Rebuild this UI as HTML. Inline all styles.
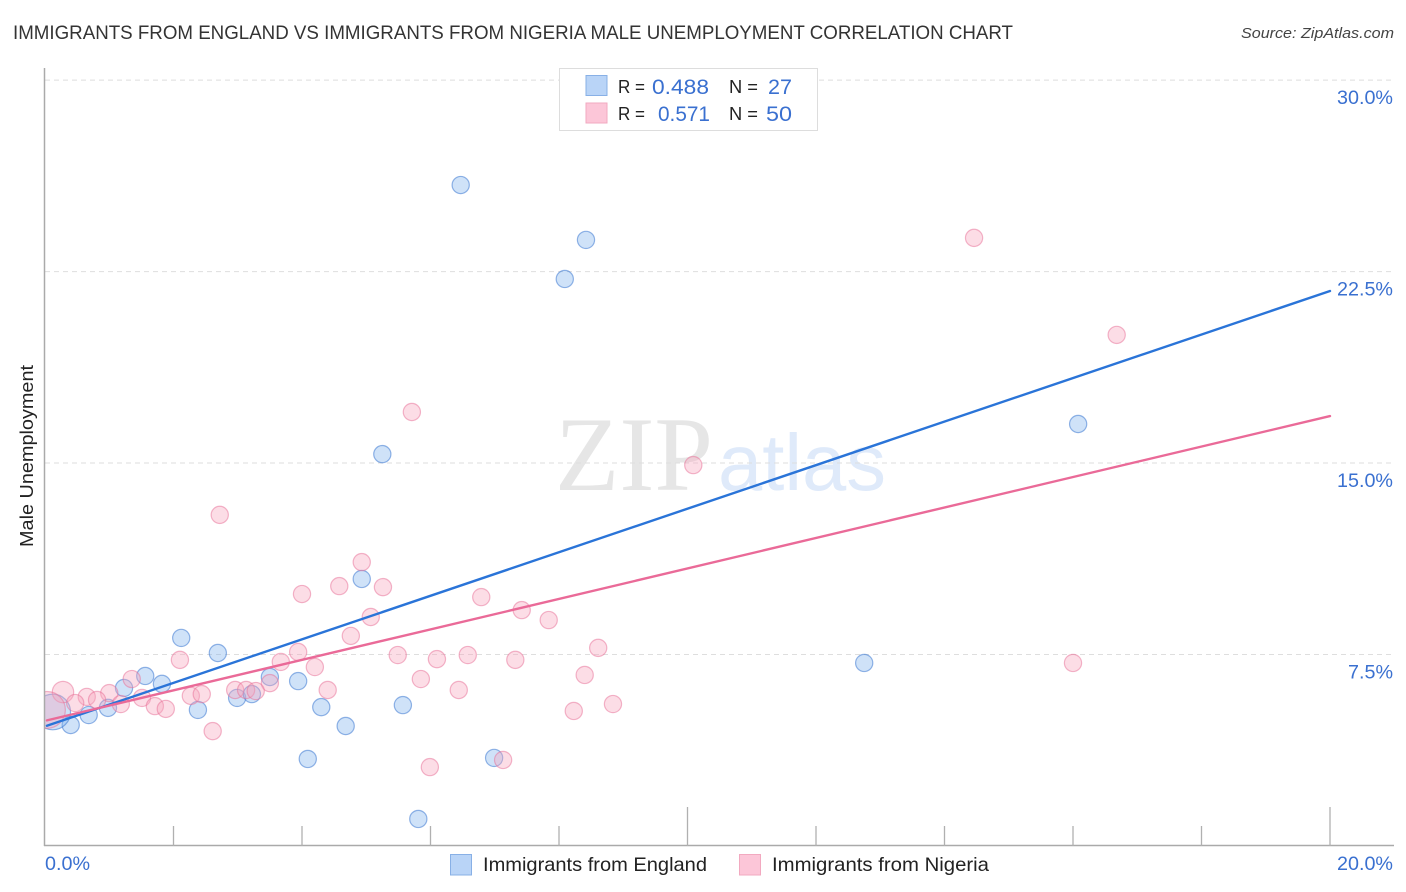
<!DOCTYPE html>
<html lang="en">
<head>
<meta charset="utf-8">
<title>Immigrants from England vs Immigrants from Nigeria Male Unemployment Correlation Chart</title>
<style>
html,body{margin:0;padding:0;background:#fff;}
body{width:1406px;height:892px;overflow:hidden;}
svg{display:block;font-family:"Liberation Sans",sans-serif;}
</style>
</head>
<body>
<svg id="chart" width="1406" height="892" viewBox="0 0 1406 892" xmlns="http://www.w3.org/2000/svg">
  <text x="13" y="39" font-size="19" fill="#333" textLength="1000" lengthAdjust="spacingAndGlyphs">IMMIGRANTS FROM ENGLAND VS IMMIGRANTS FROM NIGERIA MALE UNEMPLOYMENT CORRELATION CHART</text>
  <text x="1241" y="38" font-size="15" font-style="italic" fill="#444" textLength="153" lengthAdjust="spacingAndGlyphs">Source: ZipAtlas.com</text>
  <g id="watermark">
    <text x="555" y="490" font-family="'Liberation Serif',serif" font-size="106" fill="#e6e6e6" textLength="158" lengthAdjust="spacingAndGlyphs">ZIP</text>
    <text x="718" y="490" font-size="80" fill="#dfeafa" textLength="168" lengthAdjust="spacingAndGlyphs">atlas</text>
  </g>
  <g id="grid"></g>
  <g id="points"></g>
  <rect x="20" y="670" width="24.5" height="80" fill="#fff"/>
  <g id="axes"></g>
  <g id="trends"></g>
  <g id="ylabels"></g>
  <g id="xlabels"></g>
  <text transform="translate(33,456) rotate(-90)" text-anchor="middle" font-size="18" fill="#222" textLength="182" lengthAdjust="spacingAndGlyphs">Male Unemployment</text>

  <g>
    <rect x="559.5" y="68.5" width="258" height="62" fill="#fff" stroke="#ddd" stroke-width="1"/>
    <rect x="586" y="75.5" width="21" height="20" fill="#b9d4f7" stroke="#88b0e6" stroke-width="1"/>
    <rect x="586" y="103" width="21" height="20" fill="#fcc6d8" stroke="#f2a9c0" stroke-width="1"/>
    <text x="618" y="93" font-size="18" fill="#222" textLength="27" lengthAdjust="spacingAndGlyphs">R =</text>
    <text x="652" y="94" font-size="21" fill="#3a70d0" textLength="57" lengthAdjust="spacingAndGlyphs">0.488</text>
    <text x="729" y="93" font-size="18" fill="#222" textLength="29" lengthAdjust="spacingAndGlyphs">N =</text>
    <text x="768" y="94" font-size="21" fill="#3a70d0" textLength="24" lengthAdjust="spacingAndGlyphs">27</text>
    <text x="618" y="120" font-size="18" fill="#222" textLength="27" lengthAdjust="spacingAndGlyphs">R =</text>
    <text x="658" y="121" font-size="21" fill="#3a70d0" textLength="52" lengthAdjust="spacingAndGlyphs">0.571</text>
    <text x="729" y="120" font-size="18" fill="#222" textLength="29" lengthAdjust="spacingAndGlyphs">N =</text>
    <text x="766" y="121" font-size="21" fill="#3a70d0" textLength="26" lengthAdjust="spacingAndGlyphs">50</text>
  </g>

  <g>
    <rect x="450.5" y="854.5" width="21" height="20.5" fill="#b9d4f7" stroke="#88b0e6" stroke-width="1"/>
    <text x="483" y="871" font-size="19.5" fill="#222" textLength="224" lengthAdjust="spacingAndGlyphs">Immigrants from England</text>
    <rect x="739.5" y="854.5" width="21" height="20.5" fill="#fcc6d8" stroke="#f2a9c0" stroke-width="1"/>
    <text x="772" y="871" font-size="19.5" fill="#222" textLength="217" lengthAdjust="spacingAndGlyphs">Immigrants from Nigeria</text>
  </g>
</svg>
<script>
var englandX = [6.47,8.42,8.09,16.08,5.25,4.93,2.12,2.69,12.75,1.56,1.82,1.23,3.50,3.94,2.99,3.22,2.38,0.98,0.68,0.40,4.30,5.57,4.68,4.09,6.99,5.81,0.12];
var englandY = [25.89,23.74,22.21,16.53,15.35,10.46,8.15,7.56,7.17,6.66,6.35,6.19,6.62,6.46,5.80,5.95,5.33,5.41,5.13,4.74,5.44,5.52,4.70,3.41,3.45,1.06,5.25];
var englandWeight = [1,1,1,1,1,1,1,1,1,1,1,1,1,1,1,1,1,1,1,1,1,1,1,1,1,1,4.3];
var nigeriaX = [14.46,16.68,5.71,10.09,2.72,4.93,4.58,5.26,4.00,6.79,7.42,5.07,7.84,4.76,8.61,3.94,5.49,6.58,6.10,7.32,16.00,2.10,3.67,4.20,8.40,5.85,1.35,3.50,4.40,6.44,2.96,3.13,3.28,0.28,1.00,0.65,0.81,1.51,2.27,2.44,1.18,0.47,1.71,1.88,8.84,8.23,2.61,7.13,5.99,0.03];
var nigeriaY = [23.82,20.02,17.00,14.92,12.97,11.12,10.18,10.14,9.87,9.75,9.24,8.97,8.85,8.23,7.76,7.60,7.48,7.48,7.32,7.29,7.17,7.29,7.21,7.01,6.70,6.54,6.54,6.38,6.11,6.11,6.11,6.11,6.07,6.03,5.99,5.84,5.72,5.80,5.88,5.95,5.56,5.60,5.48,5.37,5.56,5.29,4.50,3.37,3.09,5.33];
var nigeriaWeight = [1,1,1,1,1,1,1,1,1,1,1,1,1,1,1,1,1,1,1,1,1,1,1,1,1,1,1,1,1,1,1,1,1,1.55,1,1,1,1,1,1,1,1,1,1,1,1,1,1,1,4.6];
var englandTrend = [4.71,21.74];
var nigeriaTrend = [4.92,16.84];
var trendDomain = [0.03,20];
var yTicks = [7.5,15,22.5,30];
var yTickLabels = ['7.5%','15.0%','22.5%','30.0%'];
var xTicks = [0,2,4,6,8,10,12,14,16,18,20];
var xEndTicks = [0,20];
var xEndLabels = ['0.0%','20.0%'];

var NS = 'http://www.w3.org/2000/svg';
function xScale(v){ return 45 + v * 64.25; }
function yScale(v){ return 846 - v * 25.53; }
function make(tag, parent, attrs){
  var el = document.createElementNS(NS, tag);
  for (var k in attrs) el.setAttribute(k, attrs[k]);
  document.getElementById(parent).appendChild(el);
  return el;
}
function labelWidth(s){
  var w = 0;
  for (var i = 0; i < s.length; i++) {
    var c = s.charAt(i);
    w += c === '%' ? 18 : c === '.' ? 5 : 11;
  }
  return w;
}

yTicks.forEach(function(t, i){
  var line = make('line', 'grid', {x1:45, x2:1394, y1:yScale(t), y2:yScale(t), stroke:'#dedede', 'stroke-width':1, 'stroke-dasharray':'5 4'});
  
  
  var label = make('text', 'ylabels', {x:1393, y:yScale(t) + 24, 'text-anchor':'end', 'font-size':19.5, fill:'#3a70d0', textLength:labelWidth(yTickLabels[i]), lengthAdjust:'spacingAndGlyphs'});
  
  
  label.textContent = yTickLabels[i];
});

var yAxis = make('line', 'axes', {x1:44.5, x2:44.5, y1:68, y2:846, stroke:'#aaa', 'stroke-width':1.5});


var xAxis = make('line', 'axes', {x1:44, x2:1394, y1:845.5, y2:845.5, stroke:'#aaa', 'stroke-width':1.5});



xTicks.forEach(function(t){
  if (t === 0) return;
  var top = (t === 10 || t === 20) ? 807 : 826;
  var tick = make('line', 'axes', {x1:xScale(t), x2:xScale(t), y1:top, y2:846, stroke:'#b0b0b0', 'stroke-width':1.3});
  
  
});

xEndTicks.forEach(function(t, i){
  var label = make('text', 'xlabels', i === 0
    ? {x:xScale(t), y:870, 'font-size':19.5, fill:'#3a70d0', textLength:labelWidth(xEndLabels[i]), lengthAdjust:'spacingAndGlyphs'}
    : {x:1393, y:870, 'text-anchor':'end', 'font-size':19.5, fill:'#3a70d0', textLength:labelWidth(xEndLabels[i]), lengthAdjust:'spacingAndGlyphs'});
  
  
  label.textContent = xEndLabels[i];
});

function drawSeries(xs, ys, ws, fill, stroke, name){
  xs.forEach(function(x, i){
    var dot = make('circle', 'points', {cx:xScale(x), cy:yScale(ys[i]), r:8.6 * Math.sqrt(ws[i]), fill:fill, stroke:stroke, 'stroke-width':1.2});
    
    
  });
}
drawSeries(englandX, englandY, englandWeight, 'rgba(130,178,236,0.38)', 'rgba(60,120,210,0.55)', 'england-point');
drawSeries(nigeriaX, nigeriaY, nigeriaWeight, 'rgba(248,165,190,0.38)', 'rgba(232,110,150,0.5)', 'nigeria-point');

function drawTrend(vals, color, name){
  var line = make('line', 'trends', {x1:xScale(trendDomain[0]), y1:yScale(vals[0]), x2:xScale(trendDomain[1]), y2:yScale(vals[1]), stroke:color, 'stroke-width':2.4, 'stroke-linecap':'round'});
  
  
}
drawTrend(englandTrend, '#2a74d8', 'england-trend-line');
drawTrend(nigeriaTrend, '#ea6a98', 'nigeria-trend-line');
</script>
</body>
</html>
